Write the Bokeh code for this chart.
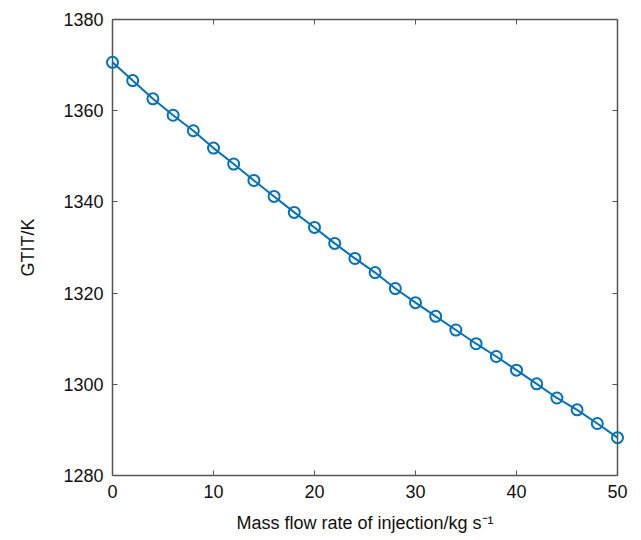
from bokeh.plotting import figure
from bokeh.models import LinearAxis, FixedTicker, ColumnDataSource
from bokeh.embed import file_html
from bokeh.resources import INLINE

# Injection mass flow rate (kg/s) and resulting gas-turbine inlet temperature (K)
mass_flow = [0, 2, 4, 6, 8, 10, 12, 14, 16, 18, 20, 22, 24, 26, 28, 30,
             32, 34, 36, 38, 40, 42, 44, 46, 48, 50]
gtit = [1370.6, 1366.6, 1362.6, 1359.0, 1355.6, 1351.8, 1348.3, 1344.7,
        1341.2, 1337.7, 1334.4, 1330.9, 1327.6, 1324.5, 1321.0, 1317.9,
        1314.9, 1311.9, 1308.9, 1306.1, 1303.1, 1300.1, 1297.0, 1294.4,
        1291.4, 1288.3]

x_ticks = [0, 10, 20, 30, 40, 50]
y_ticks = [1280, 1300, 1320, 1340, 1360, 1380]

FONT = "Liberation Sans"
AXIS_COLOR = "#555555"
BLUE = "#0072BD"

src = ColumnDataSource(dict(x=mass_flow, y=gtit))

p = figure(width=641, height=540, output_backend="svg", toolbar_location=None,
           x_range=(0, 50), y_range=(1280, 1380),
           min_border_left=112, min_border_right=24,
           min_border_top=19, min_border_bottom=65)
p.xgrid.visible = False
p.ygrid.visible = False
p.outline_line_color = None
p.background_fill_color = "white"

# drawn above the frame so the end markers are not cut by the axes
p.line("x", "y", source=src, line_color=BLUE, line_width=2, level="overlay")
p.scatter("x", "y", source=src, marker="circle", size=11,
          line_color=BLUE, line_width=2, fill_color=None, level="overlay")

def style(ax, labels=True):
    ax.axis_line_color = AXIS_COLOR
    ax.axis_line_width = 1.5
    ax.major_tick_line_color = AXIS_COLOR
    ax.major_tick_in = 5
    ax.major_tick_out = 0
    ax.minor_tick_line_color = None
    ax.major_label_text_font = FONT
    ax.major_label_text_font_size = "18px"
    ax.major_label_text_color = "#111111"
    ax.major_label_standoff = 9
    ax.axis_label_text_font = FONT
    ax.axis_label_text_font_size = "18px"
    ax.axis_label_text_font_style = "normal"
    ax.axis_label_text_color = "#111111"
    if not labels:
        ax.major_label_text_alpha = 0
        ax.major_label_text_font_size = "1px"

p.xaxis.ticker = FixedTicker(ticks=x_ticks)
p.yaxis.ticker = FixedTicker(ticks=y_ticks)
p.xaxis.axis_label = "Mass flow rate of injection/kg s\u207b\u00b9"
p.yaxis.axis_label = "GTIT/K"
style(p.xaxis[0])
style(p.yaxis[0])
p.xaxis.axis_label_standoff = 12
p.yaxis.axis_label_standoff = 22

top = LinearAxis(ticker=FixedTicker(ticks=x_ticks))
right = LinearAxis(ticker=FixedTicker(ticks=y_ticks))
style(top, labels=False)
style(right, labels=False)
p.add_layout(top, "above")
p.add_layout(right, "right")

open("out.html", "w").write(file_html(p, INLINE))
